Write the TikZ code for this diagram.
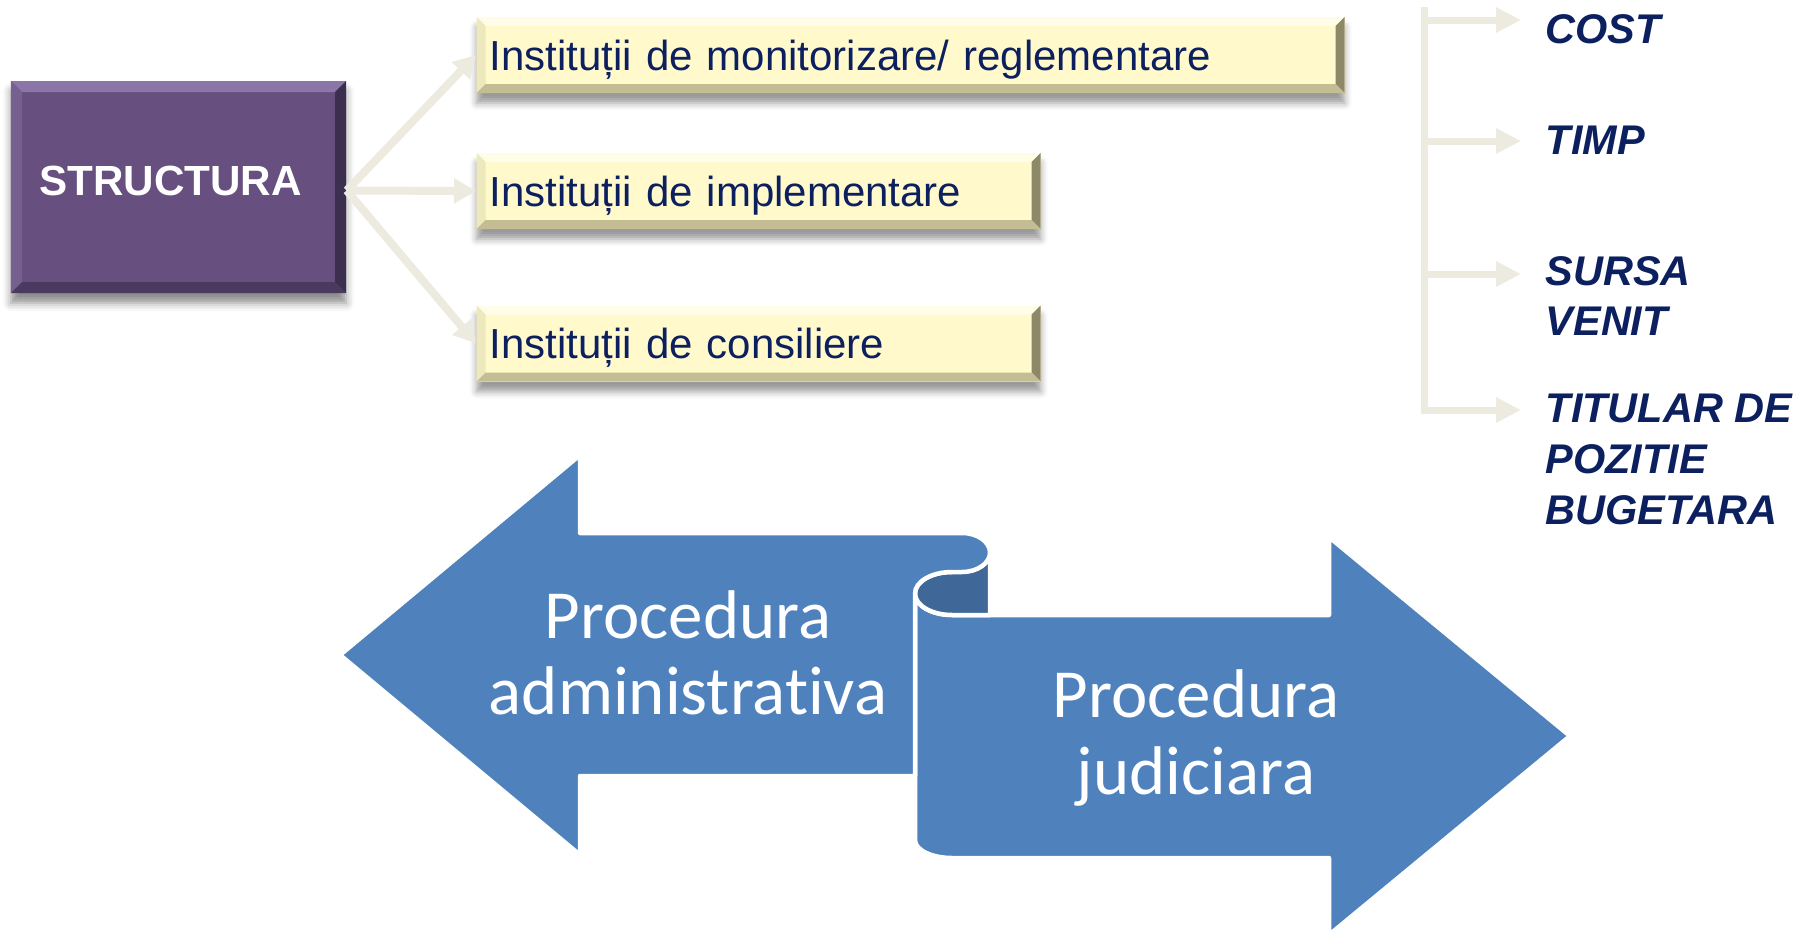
\documentclass[tikz,border=0pt]{standalone}
\usepackage{fontspec}
\setmainfont{Liberation Sans}
\newfontfamily\calibri[Ligatures=NoCommon]{Carlito}
\usetikzlibrary{arrows.meta,shadows.blur}

\definecolor{navy}{HTML}{0C1F5F}
\definecolor{purp}{HTML}{674F80}
\definecolor{purptop}{HTML}{8C76A8}
\definecolor{purpleft}{HTML}{76608F}
\definecolor{purpright}{HTML}{3C2E4E}
\definecolor{purpbot}{HTML}{4B3A5F}
\definecolor{lemon}{HTML}{FFF9CC}
\definecolor{lemontop}{HTML}{FFFDE8}
\definecolor{lemonleft}{HTML}{EEE9BC}
\definecolor{lemonright}{HTML}{8C8868}
\definecolor{lemonbot}{HTML}{C2BD93}
\definecolor{beige}{HTML}{EDEADF}
\definecolor{steel}{HTML}{4F81BD}
\definecolor{steeldark}{HTML}{3F6797}

\newcommand{\ppb}{path picture bounding box}
% #1 size, #2 top, #3 left, #4 right, #5 bottom
\newcommand{\bevel}[5]{%
	\fill[#2] (\ppb.north west) -- (\ppb.north east) -- ([shift={(-#1,-#1)}]\ppb.north east) -- ([shift={(#1,-#1)}]\ppb.north west) -- cycle;
	\fill[#3] (\ppb.north west) -- (\ppb.south west) -- ([shift={(#1,#1)}]\ppb.south west) -- ([shift={(#1,-#1)}]\ppb.north west) -- cycle;
	\fill[#4] (\ppb.north east) -- (\ppb.south east) -- ([shift={(-#1,#1)}]\ppb.south east) -- ([shift={(-#1,-#1)}]\ppb.north east) -- cycle;
	\fill[#5] (\ppb.south west) -- (\ppb.south east) -- ([shift={(-#1,#1)}]\ppb.south east) -- ([shift={(#1,#1)}]\ppb.south west) -- cycle;
}

\begin{document}
\begin{tikzpicture}[
	structbox/.style={fill=purp, text=white, font=\bfseries\fontsize{12}{14}\selectfont,
		minimum width=3.35cm, minimum height=2.12cm, inner sep=0pt, text height=.30cm, text depth=.14cm,
		path picture={\bevel{.11}{purptop}{purpleft}{purpright}{purpbot}},
		blur shadow={shadow xshift=0pt, shadow yshift=-.1cm, shadow blur radius=.08cm, shadow opacity=45}},
	instbox/.style={fill=lemon, text=navy, font=\fontsize{11.95}{14}\selectfont, anchor=west,
		text width=#1, align=left, inner sep=.13cm, text height=.4cm, text depth=.1cm,
		path picture={\bevel{.09}{lemontop}{lemonleft}{lemonright}{lemonbot}},
		blur shadow={shadow xshift=0pt, shadow yshift=-.1cm, shadow blur radius=.07cm, shadow opacity=40}},
	feed/.style={draw=beige, line width=.08cm, -{Triangle[width=.24cm,length=.22cm]}},
	branch/.style={draw=beige, line width=.07cm, -{Triangle[width=.24cm,length=.25cm]}},
	itemtext/.style={text=navy, font=\bfseries\itshape\fontsize{11.8}{14.5}\selectfont, anchor=west, align=left, inner sep=0pt},
	ribbon/.style={fill=steel, draw=white, line width=.045cm, line join=round},
	proctext/.style={text=white, font=\calibri\fontsize{19.6}{21.8}\selectfont, align=center}]
	\useasboundingbox (0,0) rectangle (18,-9.35);
	% structure
	\node[structbox] (struct) at (1.785,-1.87) {STRUCTURA\kern.16cm};
	\node[instbox=8.42cm] (inst1) at (4.76,-.55) {Instituții de monitorizare/ reglementare};
	\node[instbox=5.38cm] (inst2) at (4.76,-1.91) {Instituții de implementare};
	\node[instbox=5.38cm] (inst3) at (4.76,-3.435) {Instituții de consiliere};
	\draw[feed] ([yshift=-.035cm]struct.east) -- (inst1.west);
	\draw[feed] ([yshift=-.035cm]struct.east) -- (inst2.west);
	\draw[feed] ([yshift=-.035cm]struct.east) -- (inst3.west);
	% criteria
	\node[itemtext] (cost) at (15.45,-.29) {COST};
	\node[itemtext] (timp) at (15.45,-1.40) {TIMP};
	\node[itemtext] (sursa) at (15.45,-2.96) {SURSA\\VENIT};
	\node[itemtext] (titular) at (15.45,-4.59) {TITULAR DE\\POZITIE\\BUGETARA};
	\coordinate (spinetop) at (14.24,-.07);
	\coordinate (spinebot) at (14.24,-4.135);
	\coordinate (costtip) at (15.21,-.20);
	\coordinate (timptip) at (15.21,-1.41);
	\coordinate (sursatip) at (15.21,-2.74);
	\coordinate (titulartip) at (15.21,-4.10);
	\draw[draw=beige, line width=.07cm] (spinetop) -- (spinebot);
	\draw[branch] (spinetop |- costtip) -- (costtip);
	\draw[branch] (spinetop |- timptip) -- (timptip);
	\draw[branch] (spinetop |- sursatip) -- (sursatip);
	\draw[branch] (spinetop |- titulartip) -- (titulartip);
	% procedures
	\scope
	\path[ribbon] (9.52,-6.15) -- (13.29,-6.15) -- (13.29,-5.37) -- (15.70,-7.36) -- (13.29,-9.35) -- (13.29,-8.58) -- (9.52,-8.58)
		arc[start angle=270, end angle=180, x radius=.37, y radius=.18] -- (9.15,-5.935)
		arc[start angle=180, end angle=270, x radius=.37, y radius=.215] -- cycle;
	\path[ribbon, fill=steeldark] (9.52,-5.52) -- (9.90,-5.52) -- (9.90,-6.15) -- (9.52,-6.15)
		arc[start angle=270, end angle=90, x radius=.37, y radius=.215] -- cycle;
	\path[ribbon] (3.40,-6.55) -- (5.80,-4.55) -- (5.80,-5.33) -- (9.62,-5.33)
		arc[start angle=90, end angle=-90, x radius=.28, y radius=.195] -- (9.52,-5.72)
		arc[start angle=90, end angle=180, x radius=.37, y radius=.215] -- (9.15,-7.76) -- (5.80,-7.76) -- (5.80,-8.55) -- cycle;
	\endscope
	\node[proctext] (admin) at (6.88,-6.53) {Procedura\\administrativa};
	\node[proctext] (judic) at (11.96,-7.38) {Procedura\\judiciara};
\end{tikzpicture}
\end{document}
